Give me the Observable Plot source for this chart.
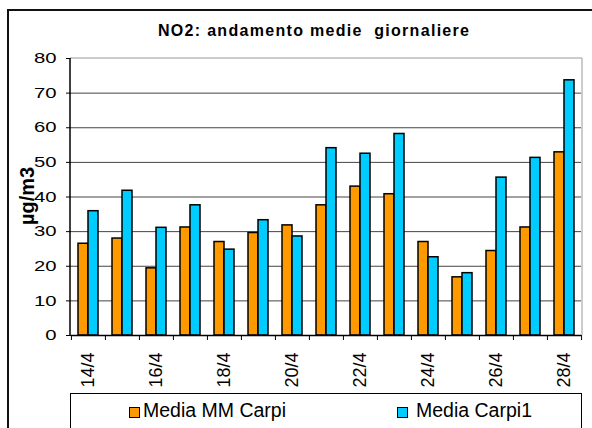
<!DOCTYPE html>
<html><head><meta charset="utf-8">
<script src="https://cdn.jsdelivr.net/npm/d3@7"></script>
<script src="https://cdn.jsdelivr.net/npm/@observablehq/plot@0.6"></script>
<style>
body{margin:0;background:#fff;}
#wrap{position:relative;width:592px;height:428px;overflow:hidden;background:#fff;font-family:"Liberation Sans",Arial,sans-serif;color:#000;}
#wrap svg{position:absolute;left:0;top:0;}
.abs{position:absolute;white-space:pre;}
</style></head><body><div id="wrap"></div>
<script>
const days = ["14/4","15/4","16/4","17/4","18/4","19/4","20/4","21/4","22/4","23/4","24/4","25/4","26/4","27/4","28/4"];
const seriesNames = ["Media MM Carpi","Media Carpi1"];
const mmCarpi = [26.5,28.0,19.4,31.2,27.0,29.6,31.8,37.6,43.0,40.8,27.0,16.8,24.4,31.2,52.9];
const carpi1 = [35.9,41.8,31.1,37.6,24.8,33.3,28.6,54.1,52.5,58.2,22.6,18.0,45.6,51.3,73.7];
const yTicks = [0,10,20,30,40,50,60,70,80];
const labeledDays = days.filter((d,i)=>i%2===0);
const colors = ["#FF9900","#00CCFF"];
const title = "NO2: andamento medie  giornaliere";
const yLabel = "µg/m3";

const rows = days.flatMap((d,i)=>[
  {day:d, series:seriesNames[0], value:mmCarpi[i]},
  {day:d, series:seriesNames[1], value:carpi1[i]}
]);

const W=592,H=428,mL=70,mR=10,mT=58,mB=93;
const step=(W-mL-mR)/days.length;
const font='"Liberation Sans",Arial,sans-serif';

const chart = Plot.plot({
  width:W, height:H, marginLeft:mL, marginRight:mR, marginTop:mT, marginBottom:mB,
  style:{fontFamily:font, background:"transparent", overflow:"visible", color:"#000"},
  fx:{domain:days, padding:0, label:null},
  x:{domain:seriesNames, paddingInner:0, paddingOuter:0.65, axis:null},
  y:{domain:[0,80], axis:null},
  color:{domain:seriesNames, range:colors},
  marks:[
    Plot.gridY(yTicks.slice(1,-1), {stroke:"#444", strokeOpacity:1}),
    Plot.barY(rows, {fx:"day", x:"series", y:"value", fill:"series", stroke:"#000", strokeWidth:1.5}),
    Plot.ruleY([0], {stroke:"#000", strokeWidth:1.5}),
    Plot.axisY({ticks:yTicks, tickSize:5, tickPadding:10, fontSize:14.5, label:null, stroke:"#000"}),
    Plot.axisFx({anchor:"bottom", ticks:labeledDays, tickSize:0, tickPadding:17, tickRotate:-90, fontSize:18, label:null}),
    Plot.axisFx({anchor:"bottom", tickSize:5, tickFormat:()=>"", dx:-step/2, label:null, stroke:"#000"}),
    Plot.axisFx({anchor:"bottom", ticks:[days[days.length-1]], tickSize:5, tickFormat:()=>"", dx:step/2, label:null, stroke:"#000"})
  ]
});

const wrap = document.getElementById("wrap");
wrap.appendChild(chart);
const svg = d3.select(chart.tagName.toLowerCase()==="svg" ? chart : chart.querySelector("svg"));

// stretch y tick labels horizontally like the reference
svg.selectAll('g[aria-label="y-axis tick label"] text').each(function(){
  const t=d3.select(this);
  const tr=t.attr("transform");
  if(tr){ t.attr("transform", tr+" scale(1.4,1)"); }
  else { const x=+t.attr("x")||0, y=+t.attr("y")||0; t.attr("x",null).attr("y",null).attr("transform",`translate(${x},${y}) scale(1.4,1)`); }
});

// plot-area frame: gray top/right, black left axis line
const fr = svg.append("g");
fr.append("line").attr("x1",mL).attr("x2",W-mR).attr("y1",mT).attr("y2",mT).attr("stroke","#999");
fr.append("line").attr("x1",W-mR).attr("x2",W-mR).attr("y1",mT).attr("y2",H-mB).attr("stroke","#999");
fr.append("line").attr("x1",mL).attr("x2",mL).attr("y1",mT).attr("y2",H-mB).attr("stroke","#000").attr("stroke-width",1.5);

// y label
svg.append("text").attr("transform","translate(34,196) rotate(-90)").attr("text-anchor","middle")
  .attr("font-weight","bold").attr("font-size",20).attr("font-family",font).attr("fill","#000").text(yLabel);

// outer border
const b=document.createElement("div");
b.className="abs"; b.style.cssText="left:7px;top:9px;width:620px;height:500px;border-left:2px solid #111;border-top:2px solid #111;";
wrap.appendChild(b);

// title
const t=document.createElement("div");
t.className="abs"; t.style.cssText="left:158px;top:23px;font-size:16px;line-height:16px;font-weight:bold;letter-spacing:1.3px;";
t.textContent=title; wrap.appendChild(t);

// legend
const lg=document.createElement("div");
lg.className="abs"; lg.style.cssText="left:70px;top:393px;width:512px;height:60px;border:1px solid #000;box-sizing:border-box;";
wrap.appendChild(lg);
const legPos=[{sx:129,tx:143},{sx:397,tx:416}];
seriesNames.forEach((s,i)=>{
  const sw=document.createElement("div");
  sw.className="abs"; sw.style.cssText=`left:${legPos[i].sx}px;top:407px;width:11px;height:11px;background:${colors[i]};border:1px solid #000;box-sizing:border-box;`;
  wrap.appendChild(sw);
  const tx=document.createElement("div");
  tx.className="abs"; tx.style.cssText=`left:${legPos[i].tx}px;top:401px;font-size:19.5px;line-height:19px;`;
  tx.textContent=s; wrap.appendChild(tx);
});
</script>
</body></html>
